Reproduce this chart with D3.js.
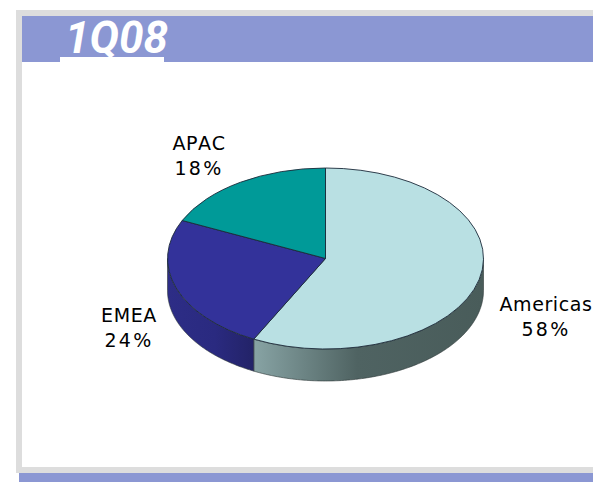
<!DOCTYPE html>
<html>
<head>
<meta charset="utf-8">
<script src="https://cdn.jsdelivr.net/npm/d3@7"></script>
<style>
  html, body { margin: 0; padding: 0; background: #fff; overflow: hidden; }
  svg { display: block; }
</style>
</head>
<body>
<svg id="chart" width="593" height="482"></svg>
<script>
const categories = ["Americas", "EMEA", "APAC"];
const shares = [57.5, 24.4, 18.1];
const shareLabels = ["58%", "24%", "18%"];
const title = "1Q08";

const topColours = ["#b9e0e3", "#33329a", "#009a98"];
const dims = { width: 593, height: 482, rx: 158, ry: 90.5, depth: 32 };
const center = { x: 325.5, y: 258.5 };
// label anchor, relative to pie center
const labelOffsets = [[220.5, 52.5], [-196.5, 63.5], [-126.5, -108.5]];

const svg = d3.select("#chart");

// page frame
const frame = svg.append("g");
frame.append("rect").attr("x", 16).attr("y", 10).attr("width", 577).attr("height", 463).attr("fill", "#dddddd");
frame.append("rect").attr("x", 22).attr("y", 16).attr("width", 571).attr("height", 451).attr("fill", "#ffffff");
frame.append("rect").attr("x", 22).attr("y", 16).attr("width", 571).attr("height", 46).attr("fill", "#8b97d3");
frame.append("rect").attr("x", 60).attr("y", 57).attr("width", 104).attr("height", 5).attr("fill", "#ffffff");
frame.append("rect").attr("x", 19).attr("y", 473).attr("width", 574).attr("height", 9).attr("fill", "#8b97d3");

// Roboto is the closest bold italic here, its 1 has no foot
svg.append("text")
  .attr("x", 65)
  .attr("y", 53)
  .style("font-family", 'Roboto, "Liberation Sans", sans-serif')
  .style("font-size", "44px")
  .style("font-weight", "bold")
  .style("font-style", "italic")
  .attr("fill", "#ffffff")
  .text(title);

// side gradients
const defs = svg.append("defs");
const addGradient = (id, stops) => {
  const g = defs.append("linearGradient")
    .attr("id", id)
    .attr("gradientUnits", "userSpaceOnUse")
    .attr("x1", center.x - dims.rx)
    .attr("x2", center.x + dims.rx)
    .attr("y1", 0)
    .attr("y2", 0);
  stops.forEach(([o, c]) => g.append("stop").attr("offset", o).attr("stop-color", c));
};
addGradient("sideAmericas", [[0.27, "#88a4a5"], [0.6, "#4f6362"], [1, "#495c5a"]]);
addGradient("sideEmea", [[0, "#2d2d86"], [0.15, "#2a2a80"], [0.27, "#232368"]]);

const pie = d3.pie().sort(null).value((d) => d);
const arcs = pie(shares);

const ex = d3.scaleLinear().domain([-1, 1]).range([center.x - dims.rx, center.x + dims.rx]);
const ey = d3.scaleLinear().domain([-1, 1]).range([center.y - dims.ry, center.y + dims.ry]);
const px = (a) => ex(Math.sin(a));
const py = (a) => ey(-Math.cos(a));

// side wall, only the front half of the ellipse shows
const side = d3.area()
  .x((a) => px(a))
  .y0((a) => py(a))
  .y1((a) => py(a) + dims.depth);

const sideFills = ["url(#sideAmericas)", "url(#sideEmea)", "none"];
const pieGraph = svg.append("g");

arcs.forEach((d, i) => {
  const from = Math.max(d.startAngle, Math.PI / 2);
  const to = Math.min(d.endAngle, (3 * Math.PI) / 2);
  if (from >= to) return;
  pieGraph.append("path")
    .attr("d", side(d3.range(from, to, 0.01).concat(to)))
    .attr("fill", sideFills[i])
    .attr("stroke", "#2b3636")
    .attr("stroke-width", 0.6);
});

// top face, unit arc squashed to the ellipse
const arcPath = d3.arc().innerRadius(0).outerRadius(1);
pieGraph.selectAll("path.top")
  .data(arcs)
  .enter()
  .append("path")
  .attr("class", "top")
  .attr("d", arcPath)
  .attr("transform", `translate(${center.x}, ${center.y}) scale(${dims.rx}, ${dims.ry})`)
  .attr("fill", (d, i) => topColours[i])
  .attr("stroke", "#1c2a3a")
  .attr("stroke-width", 0.9)
  .attr("vector-effect", "non-scaling-stroke");

// labels
const labels = svg.append("g")
  .style("font-family", '"DejaVu Sans", Verdana, sans-serif')
  .style("font-size", "19px")
  .style("font-kerning", "none")
  .attr("fill", "#000000")
  .attr("text-anchor", "middle");

categories.forEach((c, i) => {
  const lx = center.x + labelOffsets[i][0];
  const ly = center.y + labelOffsets[i][1];
  labels.append("text").attr("x", lx).attr("y", ly).style("letter-spacing", "0.6px").text(c);
  labels.append("text").attr("x", lx).attr("y", ly + 25).style("letter-spacing", "2.2px").text(shareLabels[i]);
});
</script>
</body>
</html>
